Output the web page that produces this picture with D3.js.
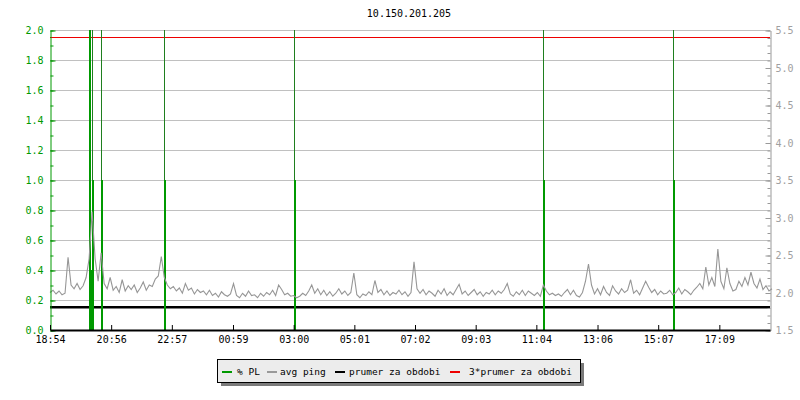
<!DOCTYPE html>
<html>
<head>
<meta charset="utf-8">
<script src="https://cdn.jsdelivr.net/npm/d3@7"></script>
<style>
  body { margin: 0; background: #fff; }
  text { font-family: "DejaVu Sans Mono", monospace; }
</style>
</head>
<body>
<div id="chart"></div>
<script>
const WIDTH = 800;
const HEIGHT = 400;
const MARGIN = { TOP: 30, RIGHT: 30, BOTTOM: 70, LEFT: 50 };

const title = "10.150.201.205";

// minutes from 18:54 at the left edge
const timeSpan = 1436;
const tickLabels = ["18:54", "20:56", "22:57", "00:59", "03:00", "05:01",
  "07:02", "09:03", "11:04", "13:06", "15:07", "17:09"];

// avg ping (right axis), one sample every 6 minutes
const pingStep = 6;
const pingValues = [
  2.00, 2.03, 1.98, 2.02, 1.97, 1.99, 2.47, 2.10, 2.05, 2.12,
  2.04, 2.09, 2.20, 2.45, 3.08, 2.45, 2.15, 2.53, 2.12, 2.05,
  2.20, 2.03, 2.08, 2.00, 2.17, 2.02, 2.09, 2.04, 2.10, 2.00,
  2.06, 2.14, 2.03, 2.10, 2.08, 2.18, 2.22, 2.48, 2.20, 2.10,
  2.05, 2.08, 2.02, 2.06, 1.99, 2.12, 2.03, 2.06, 1.98, 2.04,
  2.00, 2.02, 1.97, 2.03, 1.96, 1.99, 1.94, 2.01, 1.97, 1.95,
  1.98, 2.12, 1.96, 1.93, 1.99, 1.95, 2.02, 1.96, 1.97, 1.93,
  1.99, 1.95, 2.00, 1.97, 2.03, 1.96, 2.10, 2.04, 1.97, 1.99,
  1.95, 1.96, 1.93, 1.95, 1.99, 1.96, 2.02, 2.10, 1.99, 2.05,
  1.97, 2.03, 1.96, 2.01, 1.95, 1.99, 2.05, 1.98, 2.02, 1.96,
  2.00, 2.26, 1.97, 1.93, 1.98, 1.96, 2.01, 1.97, 2.16, 2.00,
  2.04, 1.97, 2.02, 1.96, 2.00, 1.98, 2.03, 1.97, 2.01, 1.95,
  2.00, 2.41, 2.05, 1.99, 2.04, 1.97, 2.02, 1.99, 1.95, 2.03,
  1.98, 2.05, 1.96, 2.01, 1.97, 2.04, 2.11, 1.98, 2.02, 1.96,
  2.00, 2.04, 1.97, 2.01, 1.95, 2.00, 1.98, 2.03, 1.97, 2.02,
  1.99, 2.04, 2.12, 1.98, 1.95, 2.01, 1.97, 2.03, 1.96, 2.02,
  1.99, 1.96, 2.00, 1.95, 2.10, 2.02, 1.97, 1.99, 1.96, 1.98,
  1.95, 2.00, 2.04, 1.97, 2.03, 1.96, 1.94, 2.00, 2.15, 2.38,
  2.10, 1.98, 2.05, 1.97, 2.08, 2.00, 1.96, 2.09, 2.02, 1.98,
  2.05, 2.00, 2.03, 2.17, 1.99, 2.03, 1.97, 2.06, 2.15, 2.07,
  2.00, 2.04, 1.97, 2.02, 1.98, 1.99, 2.03, 1.97, 2.00, 2.06,
  1.98, 2.04, 2.01, 1.97, 2.03, 2.07, 2.12, 2.05, 2.34, 2.10,
  2.20, 2.08, 2.58, 2.15, 2.05, 2.33, 2.12, 2.02, 2.04, 2.15,
  2.08, 2.20, 2.10, 2.27, 2.12, 2.06, 2.18, 2.04, 2.09, 2.02,
  2.05
];
const pingMean = 1.803;

// % PL (left axis)
const plTimes = [80, 83, 86, 103, 229, 488, 985, 1245];
const plValues = [2.5, 0.4, 1.0, 1.0, 1.0, 1.0, 1.0, 1.0];
// samples where PL runs off the top of the graph
const plOverTimes = [86, 103, 229, 488, 985, 1245];

const legendNames = ["% PL", "avg ping", "prumer za obdobi", "3*prumer za obdobi"];

const GREEN = "#009900";
const GRAY = "#999999";

const svg = d3
  .select("#chart")
  .append("svg")
  .attr("width", WIDTH)
  .attr("height", HEIGHT);

const x = d3
  .scaleLinear()
  .domain([0, timeSpan])
  .range([MARGIN.LEFT, WIDTH - MARGIN.RIGHT]);
const yLeft = d3
  .scaleLinear()
  .domain([0, 2])
  .range([HEIGHT - MARGIN.BOTTOM, MARGIN.TOP]);
const yRight = d3
  .scaleLinear()
  .domain([1.5, 5.5])
  .range([HEIGHT - MARGIN.BOTTOM, MARGIN.TOP]);

const leftMajor = d3.range(0, 2.01, 0.2);
const leftMinor = d3.range(0, 2.01, 0.1);
const rightMajor = d3.range(1.5, 5.51, 0.5);
const rightMinor = d3.range(1.5, 5.51, 0.1);

// title
svg
  .append("text")
  .attr("x", 409)
  .attr("y", 17)
  .attr("text-anchor", "middle")
  .attr("font-size", "10px")
  .style("fill", "#000")
  .text(title);

// grid
svg
  .append("g")
  .selectAll("line")
  .data(leftMajor.slice(1))
  .enter()
  .append("line")
  .attr("x1", MARGIN.LEFT)
  .attr("x2", WIDTH - MARGIN.RIGHT)
  .attr("y1", (d) => Math.round(yLeft(d)) + 0.5)
  .attr("y2", (d) => Math.round(yLeft(d)) + 0.5)
  .style("stroke", "#c0c0c0")
  .style("stroke-width", 1);

// mean lines
svg
  .append("line")
  .attr("x1", MARGIN.LEFT)
  .attr("x2", WIDTH - MARGIN.RIGHT)
  .attr("y1", yRight(pingMean))
  .attr("y2", yRight(pingMean))
  .style("stroke", "#000")
  .style("stroke-width", 2.5);
svg
  .append("line")
  .attr("x1", MARGIN.LEFT)
  .attr("x2", WIDTH - MARGIN.RIGHT)
  .attr("y1", Math.round(yRight(3 * pingMean)) + 0.5)
  .attr("y2", Math.round(yRight(3 * pingMean)) + 0.5)
  .style("stroke", "#ee0000")
  .style("stroke-width", 1);

// packet loss
const plot = svg.append("g");
plot
  .selectAll(".pl")
  .data(plTimes)
  .enter()
  .append("rect")
  .attr("class", "pl")
  .attr("x", (d) => Math.round(x(d)) - 1)
  .attr("width", 2)
  .attr("y", (d, i) => yLeft(Math.min(plValues[i], 2)))
  .attr("height", (d, i) => yLeft(0) - yLeft(Math.min(plValues[i], 2)))
  .style("fill", GREEN);
plot
  .selectAll(".plover")
  .data(plOverTimes)
  .enter()
  .append("line")
  .attr("class", "plover")
  .attr("x1", (d) => Math.round(x(d)) - 0.5)
  .attr("x2", (d) => Math.round(x(d)) - 0.5)
  .attr("y1", yLeft(2))
  .attr("y2", yLeft(1))
  .style("stroke", "#1f7f1f")
  .style("stroke-width", 1);

// avg ping
const pingLine = d3
  .line()
  .x((d, i) => x(i * pingStep))
  .y((d) => yRight(d));
svg
  .append("path")
  .datum(pingValues)
  .attr("d", pingLine)
  .style("fill", "none")
  .style("stroke", "#969696")
  .style("stroke-width", 1.1);

// left axis
const leftMinorAxis = svg
  .append("g")
  .attr("transform", `translate(${MARGIN.LEFT + 0.5}, 0.5)`)
  .call(d3.axisLeft(yLeft).tickValues(leftMinor).tickSize(-3).tickFormat(""))
  .call((g) => g.select(".domain").remove());
leftMinorAxis.selectAll("line").style("stroke", GREEN);

const leftAxis = svg
  .append("g")
  .attr("transform", `translate(${MARGIN.LEFT + 0.5}, 0.5)`)
  .call(
    d3.axisLeft(yLeft)
      .tickValues(leftMajor)
      .tickSize(-5)
      .tickSizeOuter(0)
      .tickPadding(7)
      .tickFormat(d3.format(".1f"))
  );
leftAxis.select(".domain").style("stroke", GREEN);
leftAxis.selectAll("line").style("stroke", GREEN);
leftAxis
  .selectAll("text")
  .attr("font-size", "10px")
  .attr("font-family", "DejaVu Sans Mono")
  .style("fill", GREEN);

// right axis
const rightMinorAxis = svg
  .append("g")
  .attr("transform", `translate(${WIDTH - MARGIN.RIGHT + 0.5}, 0.5)`)
  .call(d3.axisRight(yRight).tickValues(rightMinor).tickSize(-3).tickFormat(""))
  .call((g) => g.select(".domain").remove());
rightMinorAxis.selectAll("line").style("stroke", GRAY);

const rightAxis = svg
  .append("g")
  .attr("transform", `translate(${WIDTH - MARGIN.RIGHT + 0.5}, 0.5)`)
  .call(
    d3.axisRight(yRight)
      .tickValues(rightMajor)
      .tickSize(-5)
      .tickSizeOuter(0)
      .tickPadding(5)
      .tickFormat(d3.format(".1f"))
  );
rightAxis.select(".domain").style("stroke", GRAY);
rightAxis.selectAll("line").style("stroke", GRAY);
rightAxis
  .selectAll("text")
  .attr("font-size", "10px")
  .attr("font-family", "DejaVu Sans Mono")
  .style("fill", "#a0a0a0");

// bottom axis
const tickMinutes = tickLabels.map((t) => {
  const [h, m] = t.split(":").map(Number);
  let mins = h * 60 + m - (18 * 60 + 54);
  if (mins < 0) mins += 24 * 60;
  return mins;
});
const xAxis = svg
  .append("g")
  .attr("transform", `translate(0, ${HEIGHT - MARGIN.BOTTOM})`)
  .call(
    d3.axisBottom(x)
      .tickValues(tickMinutes)
      .tickSize(-5)
      .tickSizeOuter(0)
      .tickPadding(6)
      .tickFormat((d, i) => tickLabels[i])
  );
xAxis.select(".domain").style("stroke", "#000").style("stroke-width", 2);
xAxis.selectAll("line").style("stroke", "#000");
xAxis
  .selectAll("text")
  .attr("font-size", "10px")
  .attr("font-family", "DejaVu Sans Mono")
  .style("fill", "#000");

// legend
const legend = svg.append("g");
legend
  .append("rect")
  .attr("x", 221)
  .attr("y", 363)
  .attr("width", 363)
  .attr("height", 23)
  .style("fill", "#7a7a7a");
legend
  .append("rect")
  .attr("x", 217.5)
  .attr("y", 359.5)
  .attr("width", 363)
  .attr("height", 23)
  .style("fill", "#ececec")
  .style("stroke", "#000")
  .style("stroke-width", 1);

const legendColors = [GREEN, GRAY, "#000", "#ee0000"];
const legendSwatchX = [222, 267, 335, 450];
const legendTextX = [237, 280, 349, 469];
legendNames.forEach((name, i) => {
  legend
    .append("line")
    .attr("x1", legendSwatchX[i])
    .attr("x2", legendSwatchX[i] + 10)
    .attr("y1", 372)
    .attr("y2", 372)
    .style("stroke", legendColors[i])
    .style("stroke-width", 2);
  legend
    .append("text")
    .attr("x", legendTextX[i])
    .attr("y", 375)
    .attr("font-size", "9.5px")
    .style("fill", "#000")
    .text(name);
});
</script>
</body>
</html>
